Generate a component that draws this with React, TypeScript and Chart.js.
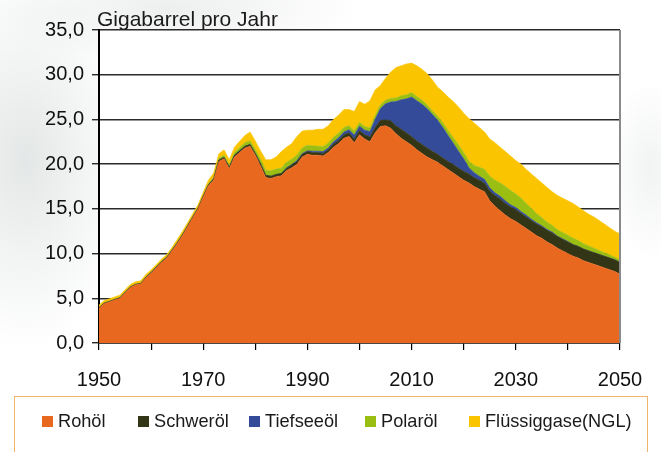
import React, { useEffect, useRef } from "react";
import { Chart, registerables } from "chart.js";

Chart.register(...registerables);

// Jahre 1950 … 2050 (Kategorien der x-Achse)
const years: number[] = Array.from({ length: 101 }, (_, i) => 1950 + i);

const seriesNames = ["Rohöl", "Schweröl", "Tiefseeöl", "Polaröl", "Flüssiggase(NGL)"];
const seriesColors = ["#E96820", "#323616", "#344B9A", "#9BBE12", "#FBC400"];

// Gigabarrel pro Jahr, je Schicht (gestapelt)
const rohoel = [
  3.9, 4.4, 4.6, 4.8, 5.0, 5.6, 6.2, 6.5, 6.6, 7.3,
  7.8, 8.4, 9.0, 9.5, 10.3, 11.1, 12.0, 13.0, 14.0, 15.0,
  16.3, 17.6, 18.2, 20.3, 20.6, 19.5, 20.8, 21.3, 21.8, 22.0,
  21.0, 19.8, 18.5, 18.4, 18.6, 18.7, 19.3, 19.6, 20.0, 20.8,
  21.1, 21.0, 21.0, 20.9, 21.3, 21.9, 22.3, 22.9, 23.1, 22.4,
  23.3, 22.8, 22.5, 23.5, 24.2, 24.3, 24.0, 23.4, 22.9, 22.5,
  22.1, 21.6, 21.2, 20.8, 20.5, 20.2, 19.8, 19.4, 19.0, 18.6,
  18.2, 17.9, 17.5, 17.2, 16.9, 15.9, 15.3, 14.8, 14.3, 13.9,
  13.6, 13.2, 12.8, 12.4, 12.0, 11.7, 11.3, 11.0, 10.6, 10.3,
  10.0, 9.7, 9.5, 9.2, 9.0, 8.8, 8.6, 8.4, 8.2, 8.0,
  7.7,
];
const schweroel = [
  0.05, 0.05, 0.05, 0.05, 0.05, 0.05, 0.05, 0.05, 0.05, 0.05,
  0.08, 0.08, 0.08, 0.08, 0.08, 0.08, 0.08, 0.08, 0.08, 0.08,
  0.1, 0.1, 0.15, 0.15, 0.15, 0.15, 0.2, 0.2, 0.2, 0.2,
  0.2, 0.25, 0.25, 0.25, 0.25, 0.25, 0.25, 0.3, 0.3, 0.3,
  0.3, 0.3, 0.3, 0.3, 0.3, 0.35, 0.35, 0.4, 0.4, 0.4,
  0.45, 0.5, 0.55, 0.6, 0.7, 0.65, 0.85, 0.9, 1.0, 1.0,
  1.0, 1.0, 1.0, 1.0, 0.95, 0.9, 0.9, 0.9, 0.95, 0.95,
  1.0, 1.0, 1.0, 1.0, 1.0, 1.1, 1.2, 1.3, 1.3, 1.3,
  1.3, 1.3, 1.3, 1.3, 1.3, 1.3, 1.3, 1.3, 1.3, 1.3,
  1.3, 1.3, 1.3, 1.3, 1.3, 1.3, 1.3, 1.3, 1.3, 1.3,
  1.3,
];
const tiefseeoel = [
  0, 0, 0, 0, 0, 0, 0, 0, 0, 0,
  0, 0, 0, 0, 0, 0, 0, 0, 0, 0,
  0, 0, 0, 0, 0, 0, 0, 0, 0, 0,
  0, 0, 0, 0, 0, 0, 0.05, 0.05, 0.1, 0.1,
  0.1, 0.15, 0.15, 0.2, 0.2, 0.25, 0.3, 0.3, 0.35, 0.45,
  0.5, 0.5, 0.6, 0.9, 1.3, 1.8, 2.1, 2.7, 3.3, 3.8,
  4.4, 4.5, 4.5, 4.4, 4.1, 3.8, 3.4, 2.9, 2.4, 1.9,
  1.4, 0.7, 0.55, 0.45, 0.4, 0.35, 0.3, 0.3, 0.3, 0.25,
  0.25, 0.2, 0.2, 0.15, 0.15, 0.1, 0.1, 0.1, 0.05, 0.05,
  0.05, 0, 0, 0, 0, 0, 0, 0, 0, 0,
  0,
];
const polaroel = [
  0.05, 0.05, 0.05, 0.05, 0.05, 0.05, 0.05, 0.05, 0.05, 0.05,
  0.05, 0.05, 0.05, 0.05, 0.05, 0.08, 0.08, 0.08, 0.08, 0.08,
  0.1, 0.1, 0.15, 0.2, 0.25, 0.25, 0.3, 0.35, 0.4, 0.4,
  0.45, 0.5, 0.55, 0.6, 0.6, 0.6, 0.6, 0.6, 0.6, 0.6,
  0.6, 0.6, 0.55, 0.55, 0.55, 0.5, 0.5, 0.5, 0.45, 0.45,
  0.4, 0.4, 0.4, 0.4, 0.4, 0.4, 0.4, 0.4, 0.45, 0.45,
  0.5, 0.45, 0.45, 0.4, 0.4, 0.45, 0.5, 0.55, 0.6, 0.7,
  0.7, 0.7, 0.8, 1.0, 1.1, 1.3, 1.4, 1.5, 1.6, 1.6,
  1.5, 1.5, 1.3, 1.2, 1.0, 0.9, 0.8, 0.75, 0.7, 0.7,
  0.7, 0.7, 0.65, 0.6, 0.55, 0.5, 0.45, 0.4, 0.35, 0.3,
  0.3,
];
const fluessiggase = [
  0.25, 0.25, 0.25, 0.25, 0.25, 0.25, 0.25, 0.25, 0.25, 0.25,
  0.25, 0.25, 0.25, 0.25, 0.25, 0.3, 0.3, 0.3, 0.3, 0.3,
  0.35, 0.4, 0.5, 0.5, 0.6, 0.6, 0.6, 0.7, 0.8, 1.0,
  0.95, 0.95, 1.2, 1.25, 1.35, 1.85, 1.7, 1.75, 2.1, 1.9,
  1.7, 1.75, 1.9, 1.95, 1.95, 2.0, 2.05, 2.0, 1.8, 2.2,
  2.35, 2.5, 3.05, 2.9, 2.2, 2.45, 2.95, 3.4, 3.35, 3.45,
  3.3, 3.45, 3.45, 3.5, 3.45, 3.25, 3.5, 3.75, 4.05, 4.25,
  4.4, 4.8, 4.75, 4.45, 4.2, 4.15, 4.2, 4.0, 3.9, 3.85,
  3.75, 3.8, 3.8, 3.85, 3.95, 3.9, 3.9, 3.75, 3.85, 3.85,
  3.85, 3.9, 3.75, 3.7, 3.55, 3.5, 3.35, 3.2, 3.05, 2.9,
  2.9,
];

const seriesValues = [rohoel, schweroel, tiefseeoel, polaroel, fluessiggase];

const yMin = 0;
const yMax = 35;
const yStep = 5;
const xMin = 1950;
const xMax = 2050;
const xStep = 10;
const xLabelStep = 20;

const FONT = '"Liberation Sans", Arial, sans-serif';

const chartAreaBg = {
  id: "chartAreaBg",
  beforeDraw(chart: any) {
    const { ctx, chartArea } = chart;
    if (!chartArea) return;
    ctx.save();
    ctx.fillStyle = "#ffffff";
    ctx.fillRect(chartArea.left, chartArea.top, chartArea.right - chartArea.left, chartArea.bottom - chartArea.top);
    ctx.restore();
  },
};

const rightBorder = {
  id: "rightBorder",
  afterDraw(chart: any) {
    const { ctx, chartArea } = chart;
    ctx.save();
    ctx.strokeStyle = "#8a8a8a";
    ctx.lineWidth = 2;
    ctx.beginPath();
    ctx.moveTo(chartArea.right, chartArea.top);
    ctx.lineTo(chartArea.right, chartArea.bottom);
    ctx.stroke();
    ctx.restore();
  },
};

export default function App() {
  const canvasRef = useRef<HTMLCanvasElement | null>(null);

  useEffect(() => {
    if (!canvasRef.current) return;
    const datasets = seriesValues.map((vals, si) => ({
      label: seriesNames[si],
      data: years.map((yr, i) => ({ x: yr, y: vals[i] })),
      backgroundColor: seriesColors[si],
      borderColor: seriesColors[si],
      borderWidth: 0.6,
      pointRadius: 0,
      pointHoverRadius: 0,
      tension: 0,
      fill: si === 0 ? "origin" : "-1",
    }));

    const chart = new Chart(canvasRef.current, {
      type: "line",
      data: { datasets },
      plugins: [chartAreaBg, rightBorder],
      options: {
        animation: false,
        responsive: false,
        maintainAspectRatio: false,
        layout: { padding: { top: 30, right: 41, left: 0, bottom: 0 } },
        plugins: {
          legend: { display: false },
          tooltip: { enabled: false },
          title: { display: false },
        },
        scales: {
          x: {
            type: "linear",
            min: xMin,
            max: xMax,
            ticks: {
              stepSize: xStep,
              autoSkip: false,
              maxRotation: 0,
              padding: 18,
              color: "#111",
              font: { size: 20, family: FONT },
              callback: (v: any) => ((Number(v) - xMin) % xLabelStep === 0 ? String(v) : ""),
            },
            grid: { drawOnChartArea: false, drawTicks: true, tickLength: 7, color: "#000", lineWidth: 1.2 },
            border: { color: "#000", width: 1.5 },
            afterFit: (s: any) => {
              s.height = 109;
            },
          },
          y: {
            stacked: true,
            min: yMin,
            max: yMax,
            ticks: {
              stepSize: yStep,
              padding: 8,
              color: "#111",
              font: { size: 20, family: FONT },
              callback: (v: any) => Number(v).toFixed(1).replace(".", ","),
            },
            grid: { color: "#2a2a2a", lineWidth: 1.4, tickLength: 7, drawTicks: true },
            border: { color: "#000", width: 2 },
            afterFit: (s: any) => {
              s.width = 99;
            },
          },
        },
      },
    });
    return () => chart.destroy();
  }, []);

  const legendPositions = [42, 138, 249, 365, 469];

  return (
    <div
      style={{
        position: "fixed",
        left: 0,
        top: 0,
        width: 661,
        height: 452,
        overflow: "hidden",
        background:
          "radial-gradient(ellipse 110px 190px at 25px 160px, rgba(214,218,218,0.65), rgba(255,255,255,0)), " +
          "radial-gradient(ellipse 190px 55px at 170px 8px, rgba(222,224,224,0.55), rgba(255,255,255,0)), " +
          "radial-gradient(ellipse 40px 90px at 650px 170px, rgba(232,234,234,0.6), rgba(255,255,255,0)), #ffffff",
        fontFamily: FONT,
      }}
    >
      <canvas ref={canvasRef} width={661} height={452} style={{ position: "absolute", left: 0, top: 0, width: 661, height: 452 }} />
      <div
        style={{
          position: "absolute",
          left: 97,
          top: 8,
          fontSize: 21,
          lineHeight: "21px",
          color: "#1a1a1a",
          whiteSpace: "nowrap",
        }}
      >
        Gigabarrel pro Jahr
      </div>
      <div
        style={{
          position: "absolute",
          left: 14,
          top: 396,
          width: 634,
          height: 80,
          border: "1.5px solid #F2B36C",
          boxSizing: "border-box",
        }}
      />
      {seriesNames.map((name, i) => (
        <div
          key={name}
          style={{
            position: "absolute",
            left: legendPositions[i],
            top: 411,
            height: 20,
            display: "flex",
            alignItems: "center",
            whiteSpace: "nowrap",
          }}
        >
          <span style={{ display: "inline-block", width: 11, height: 11, background: seriesColors[i], marginRight: 5 }} />
          <span style={{ fontSize: 18.2, lineHeight: "20px", color: "#1a1a1a" }}>{name}</span>
        </div>
      ))}
    </div>
  );
}
